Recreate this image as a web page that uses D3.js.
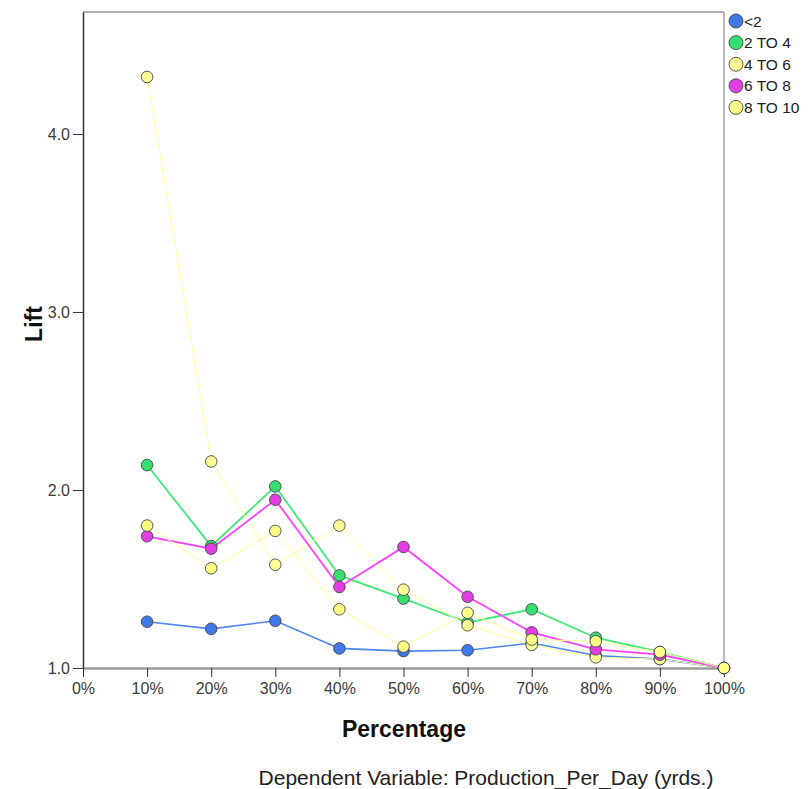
<!DOCTYPE html>
<html><head><meta charset="utf-8">
<script src="https://cdn.jsdelivr.net/npm/d3@7"></script>
<style>body{margin:0;background:#fff}svg{display:block;font-family:"Liberation Sans",Arial,sans-serif}</style>
</head><body><svg id="c" width="810" height="789"></svg>
<script>
const percents = [10,20,30,40,50,60,70,80,90,100];
const xTicks = [0,10,20,30,40,50,60,70,80,90,100];
const yTicks = [1.0,2.0,3.0,4.0];
const seriesNames = ["<2","2 TO 4","4 TO 6","6 TO 8","8 TO 10"];
const liftLt2   = [1.26,1.22,1.265,1.11,1.095,1.10,1.14,1.07,1.05,1.0];
const lift2to4  = [2.14,1.685,2.02,1.52,1.39,1.255,1.33,1.17,1.09,1.0];
const lift4to6  = [4.32,2.16,1.58,1.80,1.44,1.24,1.13,1.06,1.05,1.0];
const lift6to8  = [1.74,1.67,1.945,1.455,1.68,1.40,1.20,1.105,1.075,1.0];
const lift8to10 = [1.80,1.56,1.77,1.33,1.12,1.31,1.16,1.15,1.09,1.0];
const lineColors = ["#4d86ee","#40e878","#ffff90","#ff40ff","#ffff90"];
const fillColors = ["#3f78e8","#36e070","#ffff99","#e23de2","#ffff88"];
const lineWidths = [1.6,1.8,1,1.8,1];
const allSeries = [liftLt2,lift2to4,lift4to6,lift6to8,lift8to10];

const svg = d3.select("#c");
const L=83, R=724, T=12, B=668;
const x = d3.scaleLinear().domain([0,100]).range([L,R]);
const y = d3.scaleLinear().domain([1,4.685]).range([B,T]);

// frame
svg.append("line").attr("x1",L).attr("x2",R).attr("y1",T).attr("y2",T).attr("stroke","#b0b0b0").attr("stroke-width",2);
svg.append("line").attr("x1",R).attr("x2",R).attr("y1",T).attr("y2",B).attr("stroke","#8a8a8a").attr("stroke-width",1.2);

// axes
const xa = svg.append("g").attr("transform",`translate(0,${B})`)
  .call(d3.axisBottom(x).tickValues(xTicks).tickFormat(d=>d+"%").tickSize(9).tickSizeOuter(0).tickPadding(6));
xa.select(".domain").attr("stroke","#9a9a9a").attr("stroke-width",2.5);
xa.selectAll(".tick line").attr("stroke","#333");
xa.selectAll("text").attr("font-size",16).attr("fill","#3a3a3a").attr("font-family","Liberation Sans, Arial");
const ya = svg.append("g").attr("transform",`translate(${L},0)`)
  .call(d3.axisLeft(y).tickValues(yTicks).tickFormat(d3.format(".1f")).tickSize(10).tickSizeOuter(0).tickPadding(3));
ya.select(".domain").attr("stroke","#333").attr("stroke-width",1.5);
ya.selectAll(".tick line").attr("stroke","#333");
ya.selectAll("text").attr("font-size",16).attr("fill","#3a3a3a").attr("font-family","Liberation Sans, Arial");

// lines
const lineGen = d3.line().x((d,i)=>x(percents[i])).y(d=>y(d));
allSeries.forEach((s,k)=>{
  svg.append("path").attr("d",lineGen(s)).attr("fill","none")
    .attr("stroke",lineColors[k]).attr("stroke-width",lineWidths[k]);
});
allSeries.forEach((s,k)=>{
  svg.append("g").selectAll("circle").data(s).join("circle")
    .attr("cx",(d,i)=>x(percents[i])).attr("cy",d=>y(d)).attr("r",5.8)
    .attr("fill",fillColors[k]).attr("stroke","#444").attr("stroke-width",0.9);
});

// legend
const lg = svg.append("g");
seriesNames.forEach((n,k)=>{
  const cy = 21 + k*21.6;
  lg.append("circle").attr("cx",736).attr("cy",cy).attr("r",7)
    .attr("fill",fillColors[k]).attr("stroke","#444").attr("stroke-width",0.9);
  lg.append("text").attr("x",744).attr("y",cy+5.5).attr("font-size",15.5).attr("fill","#222").text(n);
});

// titles
svg.append("text").attr("transform","translate(42,324) rotate(-90)").attr("text-anchor","middle")
  .attr("font-size",23).attr("font-weight","bold").attr("fill","#111").text("Lift");
svg.append("text").attr("x",404).attr("y",737).attr("text-anchor","middle")
  .attr("font-size",23).attr("font-weight","bold").attr("fill","#111").text("Percentage");
svg.append("text").attr("x",486).attr("y",785).attr("text-anchor","middle")
  .attr("font-size",21).attr("fill","#222").text("Dependent Variable: Production_Per_Day (yrds.)");
</script></body></html>
